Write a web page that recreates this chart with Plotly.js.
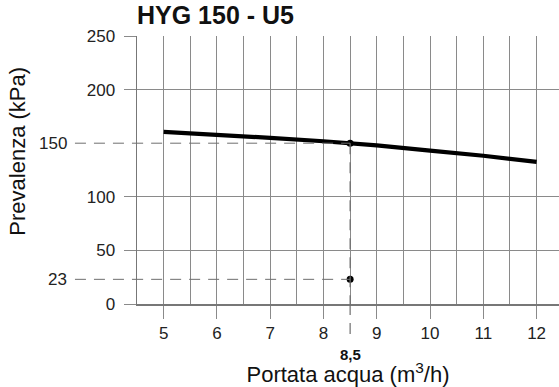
<!DOCTYPE html>
<html>
<head>
<meta charset="utf-8">
<script src="https://cdn.plot.ly/plotly-3.0.1.min.js"></script>
<style>html,body{margin:0;padding:0;background:#fff;}#chart{width:559px;height:387px;}</style>
</head>
<body>
<div id="chart"></div>
<script>
// Pump curve data
const flow = [5, 6, 7, 8, 8.5, 9, 10, 11, 12];
const head = [160.5, 158, 155, 151.8, 150, 148, 143, 138.3, 132.5];
// Operating point
const opFlow = 8.5;
const opHead = 150;
const opDrop = 23;
const opFlowLabel = '8,5';
// Ticks
const xTicks = [5, 6, 7, 8, 9, 10, 11, 12];
const yTicks = [0, 50, 100, 200, 250];
const xRange = [4.5, 12.42];
const yRange = [0, 250];

const FONT = 'Liberation Sans, Arial, Helvetica, sans-serif';
const GRID = '#8a8a8a';
const DASH = '#6e6e6e';
const dashPat = '11px,8px';

const traces = [
  {x: flow, y: head, mode: 'lines', line: {color: '#000', width: 4.2}, hoverinfo: 'skip'},
  {x: [opFlow, opFlow], y: [opHead, opDrop], mode: 'markers',
   marker: {color: '#000', size: 7}, cliponaxis: false, hoverinfo: 'skip'}
];

const shapes = [
  {type: 'line', xref: 'x', yref: 'y', xsizemode: 'pixel', xanchor: opFlow, x0: -275, x1: 0,
   y0: opHead, y1: opHead, line: {color: DASH, width: 1, dash: dashPat}},
  {type: 'line', xref: 'paper', yref: 'y', x0: -0.147, x1: 0, y0: opHead, y1: opHead,
   line: {color: DASH, width: 1, dash: dashPat}},
  {type: 'line', xref: 'x', yref: 'y', xsizemode: 'pixel', xanchor: opFlow, x0: -275, x1: 0,
   y0: opDrop, y1: opDrop, line: {color: DASH, width: 1, dash: dashPat}},
  {type: 'line', xref: 'paper', yref: 'y', x0: -0.147, x1: 0, y0: opDrop, y1: opDrop,
   line: {color: DASH, width: 1, dash: dashPat}},
  {type: 'line', xref: 'x', yref: 'y', x0: opFlow, x1: opFlow, y0: opHead, y1: 0,
   line: {color: DASH, width: 1.2, dash: dashPat}},
  {type: 'line', xref: 'x', yref: 'paper', x0: opFlow, x1: opFlow, y0: 0, y1: -0.127,
   line: {color: DASH, width: 1.2, dash: dashPat}}
];

const annotations = [
  {text: String(opHead), xref: 'paper', yref: 'y', x: -0.162, y: opHead, xanchor: 'right', yanchor: 'middle',
   showarrow: false, font: {family: FONT, size: 17, color: '#222'}},
  {text: String(opDrop), xref: 'paper', yref: 'y', x: -0.162, y: opDrop, xanchor: 'right', yanchor: 'middle',
   showarrow: false, font: {family: FONT, size: 17, color: '#222'}},
  {text: '<b>' + opFlowLabel + '</b>', xref: 'x', yref: 'paper', x: opFlow, y: -0.187, xanchor: 'center', yanchor: 'middle',
   showarrow: false, font: {family: FONT, size: 15, color: '#111'}},
  {text: 'Prevalenza (kPa)', xref: 'paper', yref: 'paper', x: -0.284, y: 0.569, textangle: -90,
   xanchor: 'center', yanchor: 'middle', showarrow: false, font: {family: FONT, size: 22, color: '#111'}}
];

const layout = {
  width: 559, height: 387,
  margin: {l: 137, r: 0, t: 36, b: 83, pad: 0},
  paper_bgcolor: '#fff', plot_bgcolor: '#fff',
  showlegend: false,
  font: {family: FONT, color: '#222'},
  title: {text: '<b>HYG 150 - U5</b>', font: {family: FONT, size: 25, color: '#111'},
          x: 0, xref: 'paper', xanchor: 'left', y: 0.982, yref: 'container', yanchor: 'top'},
  xaxis: {
    range: xRange, tickvals: xTicks, ticktext: xTicks.map(String),
    showgrid: true, gridcolor: GRID, gridwidth: 1,
    minor: {dtick: 0.5, tick0: 0, showgrid: true, gridcolor: GRID, gridwidth: 1},
    ticks: 'outside', ticklen: 13, tickcolor: GRID, tickwidth: 1,
    tickfont: {family: FONT, size: 17, color: '#222'},
    showline: true, linecolor: '#777', linewidth: 1.5,
    zeroline: false, fixedrange: true,
    title: {text: 'Portata acqua (m<sup>3</sup>/h)', font: {family: FONT, size: 22, color: '#111'}, standoff: 31}
  },
  yaxis: {
    range: yRange, tickvals: yTicks, ticktext: yTicks.map(String),
    showgrid: true, gridcolor: GRID, gridwidth: 1,
    ticks: 'outside', ticklen: 12, tickcolor: GRID, tickwidth: 1,
    tickfont: {family: FONT, size: 17, color: '#222'},
    ticklabelstandoff: 5,
    showline: true, linecolor: '#777', linewidth: 1.5,
    zeroline: false, fixedrange: true
  },
  shapes: shapes,
  annotations: annotations
};

Plotly.newPlot('chart', traces, layout, {staticPlot: true, displayModeBar: false});
</script>
</body>
</html>
